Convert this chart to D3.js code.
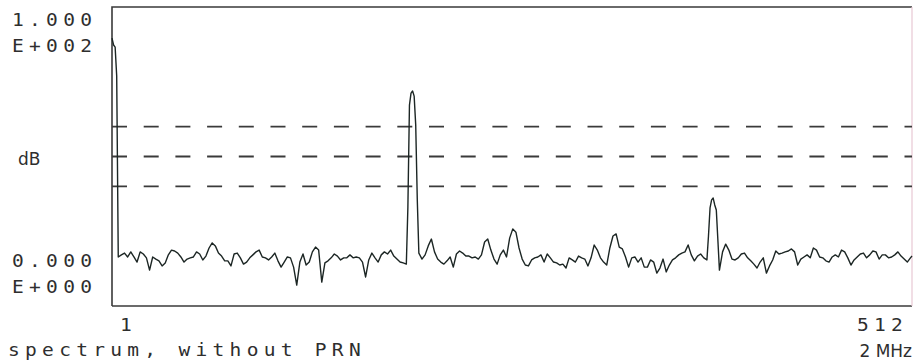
<!DOCTYPE html>
<html>
<head>
<meta charset="utf-8">
<script src="https://cdn.jsdelivr.net/npm/d3@7"></script>
<style>
  body { margin: 0; background: #fff; }
  svg { display: block; }
  .mono { font-family: "DejaVu Sans Mono", monospace; font-size: 17px; letter-spacing: 4.6px; fill: #2e2e2e; }
  .sans { font-family: "DejaVu Sans", sans-serif; font-size: 17px; fill: #2e2e2e; }
</style>
</head>
<body>
<div id="chart"></div>
<script>
// spectrum level (dB) at the odd bins 1, 3, 5 ... 511
const floorLevels = [
  89.6, 86.6, 16.4, 17.1, 17.7, 16.4, 18.1, 16.4, 14.7, 18.1, 17.4, 16.1, 12.0, 16.4, 15.7, 15.1,
  13.4, 14.4, 17.1, 18.7, 18.4, 17.7, 16.4, 14.7, 15.7, 16.1, 16.4, 18.1, 17.4, 15.4, 16.7, 19.4,
  21.1, 20.1, 17.7, 16.7, 15.1, 15.1, 13.4, 17.4, 17.7, 16.1, 14.0, 14.7, 16.1, 17.1, 18.1, 18.7,
  16.4, 16.1, 15.4, 16.4, 17.7, 15.1, 13.0, 14.7, 16.4, 16.1, 13.0, 7.0, 14.7, 17.4, 13.7, 14.7,
  18.1, 19.7, 18.7, 8.0, 14.4, 15.1, 16.1, 17.4, 16.7, 15.4, 16.1, 16.1, 17.1, 16.1, 16.4, 16.1,
  14.7, 9.7, 15.4, 17.7, 16.1, 14.7, 17.1, 18.1, 17.4, 18.7, 16.7, 15.7, 14.7, 14.4, 14.0, 67.2,
  71.9, 60.5, 17.7, 15.7, 17.1, 20.1, 22.4, 18.1, 15.7, 14.7, 14.0, 15.1, 16.4, 13.0, 17.4, 18.4,
  17.7, 16.7, 16.7, 16.1, 16.4, 15.7, 17.1, 21.4, 22.4, 18.7, 15.7, 14.0, 17.1, 18.7, 16.4, 22.7,
  25.8, 24.7, 19.4, 15.7, 13.7, 13.4, 15.4, 16.1, 16.4, 17.1, 14.7, 17.4, 16.1, 14.7, 14.4, 13.7,
  14.0, 12.7, 16.1, 15.4, 14.7, 16.7, 16.1, 15.7, 13.4, 16.1, 20.4, 18.7, 16.1, 14.7, 13.7, 19.4,
  23.4, 24.1, 19.7, 19.1, 16.4, 13.0, 16.1, 16.4, 14.7, 16.1, 13.0, 13.0, 15.4, 14.7, 11.0, 12.7,
  15.7, 11.4, 13.7, 15.4, 16.1, 17.1, 17.7, 18.1, 20.4, 17.1, 15.1, 16.7, 17.4, 16.1, 15.4, 32.8,
  36.1, 32.1, 12.0, 18.1, 20.7, 18.7, 15.7, 15.4, 16.1, 17.4, 17.7, 16.1, 15.1, 14.0, 12.7, 14.7,
  16.1, 11.0, 13.4, 15.4, 18.4, 17.4, 17.7, 18.1, 18.4, 19.1, 18.1, 13.7, 15.7, 16.4, 17.1, 16.1,
  19.4, 18.7, 16.4, 16.1, 15.1, 14.7, 16.4, 17.1, 16.4, 18.7, 18.1, 16.1, 13.7, 15.4, 16.4, 17.4,
  17.7, 16.1, 17.1, 18.4, 18.1, 15.7, 17.1, 17.1, 16.1, 16.4, 17.1, 18.1, 16.7, 15.7, 14.7, 16.1
];
// extra even bins around the three peaks
const detailBins = [2, 4, 190, 192, 194, 196, 382, 384, 386, 388, 512];
const detailLevels = [87.3, 76.9, 33.1, 71.2, 70.2, 35.5, 23.4, 35.5, 33.8, 22.1, 16.7];

const refLevels = [40, 50, 60];
const binRange = [1, 512];
const dbRange = [0, 100];
const xTickLabels = ['1', '512'];
const topLabel = ['1.000', 'E+002'];
const bottomLabel = ['0.000', 'E+000'];
const yUnit = 'dB';
const xUnit = '2 MHz';
const caption = 'spectrum, without PRN';

const width = 913, height = 364;
const box = { left: 112, right: 912, top: 7, bottom: 306 };
const stretch = 1.15;

const points = floorLevels.map((v, i) => ({ bin: 1 + i * 2, db: v }))
  .concat(detailBins.map((b, i) => ({ bin: b, db: detailLevels[i] })))
  .sort((a, b) => a.bin - b.bin);

const x = d3.scaleLinear().domain(binRange).range([box.left, box.right]);
const y = d3.scaleLinear().domain(dbRange).range([box.bottom, box.top]);

const svg = d3.select('#chart').append('svg')
  .attr('width', width)
  .attr('height', height);

// plotter-like wide mono text
function plotText(str, px, py) {
  svg.append('text')
    .attr('class', 'mono')
    .attr('transform', `translate(${px},${py}) scale(${stretch},1)`)
    .text(str);
}

// frame
svg.append('path')
  .attr('d', `M${box.left},${box.bottom} L${box.left},${box.top} L${box.right},${box.top}`)
  .attr('fill', 'none').attr('stroke', '#3a3a3a').attr('stroke-width', 1.6);
svg.append('line')
  .attr('x1', box.left).attr('x2', box.right).attr('y1', box.bottom).attr('y2', box.bottom)
  .attr('stroke', '#3a3a3a').attr('stroke-width', 1.6);
svg.append('line')
  .attr('x1', box.right).attr('x2', box.right).attr('y1', box.top).attr('y2', box.bottom)
  .attr('stroke', '#e8c8d4').attr('stroke-width', 1.2);

// reference dashes
svg.selectAll('.ref')
  .data(refLevels)
  .enter()
  .append('line')
  .attr('class', 'ref')
  .attr('x1', box.left).attr('x2', box.right)
  .attr('y1', d => y(d)).attr('y2', d => y(d))
  .attr('stroke', '#3a3a3a')
  .attr('stroke-width', 1.8)
  .attr('stroke-dasharray', '15 16.7');

// spectrum trace
svg.append('path')
  .datum(points)
  .attr('fill', 'none')
  .attr('stroke', '#1c2624')
  .attr('stroke-width', 1.4)
  .attr('stroke-linejoin', 'round')
  .attr('d', d3.line().x(d => x(d.bin)).y(d => y(d.db)));

// y labels
topLabel.forEach((t, i) => plotText(t, 12, 26 + i * 26));
bottomLabel.forEach((t, i) => plotText(t, 12, 267 + i * 26));

svg.append('text')
  .attr('class', 'sans')
  .attr('x', 18).attr('y', 165)
  .text(yUnit);

// x labels
plotText(xTickLabels[0], x(binRange[0]) + 8, 331);
plotText(xTickLabels[1], x(binRange[1]) - 55, 331);

svg.append('text')
  .attr('class', 'sans')
  .attr('x', 912).attr('y', 357)
  .attr('text-anchor', 'end')
  .attr('font-size', 19)
  .text(xUnit);

plotText(caption, 8, 356);
</script>
</body>
</html>
